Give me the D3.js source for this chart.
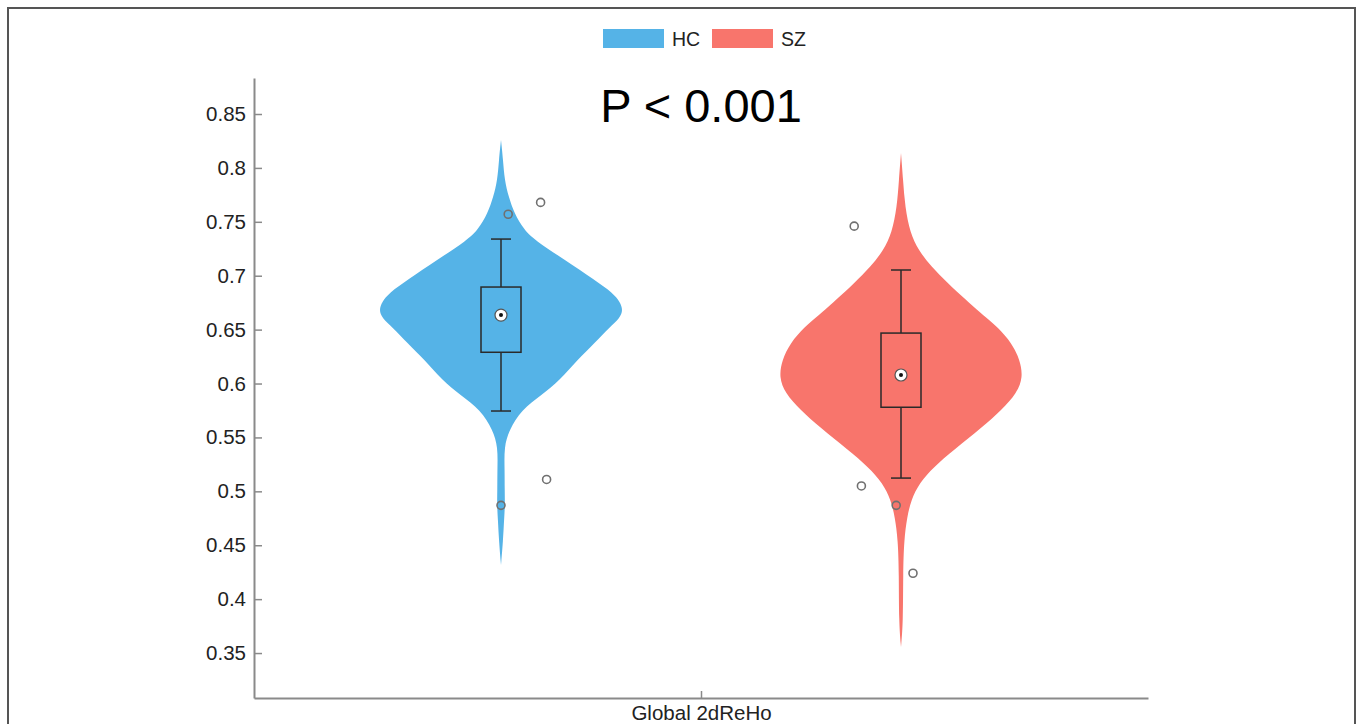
<!DOCTYPE html>
<html>
<head>
<meta charset="utf-8">
<script src="https://cdn.jsdelivr.net/npm/d3@7"></script>
<style>
  html, body { margin: 0; padding: 0; background: #fff; }
  svg { display: block; font-family: "Liberation Sans", Arial, sans-serif; }
</style>
</head>
<body>
<svg id="chart" width="1358" height="724"></svg>
<script>
// Groups and colours
const groups = ["HC", "SZ"];
const groupColors = ["#55b3e7", "#f8756c"];
const category = "Global 2dReHo";
const yTicks = [0.35, 0.4, 0.45, 0.5, 0.55, 0.6, 0.65, 0.7, 0.75, 0.8, 0.85];
const yTickLabels = ["0.35", "0.4", "0.45", "0.5", "0.55", "0.6", "0.65", "0.7", "0.75", "0.8", "0.85"];

// Kernel density profiles (value, relative density)
const hcDensityValue = [0.8259, 0.8073, 0.7888, 0.7730, 0.7582, 0.7424, 0.7331, 0.7146, 0.6960, 0.6840, 0.6756, 0.6682, 0.6608, 0.6524, 0.6376, 0.6218, 0.6032, 0.5893, 0.5754, 0.5569, 0.5411, 0.5198, 0.5012, 0.4873, 0.4734, 0.4548, 0.4316];
const hcDensityWidth = [0.0, 0.017, 0.029, 0.063, 0.108, 0.19, 0.275, 0.525, 0.767, 0.917, 0.975, 1.0, 0.975, 0.892, 0.767, 0.625, 0.483, 0.333, 0.167, 0.067, 0.025, 0.03, 0.03, 0.033, 0.025, 0.017, 0.0];
const szDensityValue = [0.8138, 0.7888, 0.7637, 0.7396, 0.7238, 0.7081, 0.6932, 0.6775, 0.6682, 0.6617, 0.6524, 0.6376, 0.6218, 0.6060, 0.5912, 0.5754, 0.5596, 0.5383, 0.5225, 0.5077, 0.4919, 0.4762, 0.4548, 0.4242, 0.3778, 0.3556];
const szDensityWidth = [0.0, 0.017, 0.033, 0.075, 0.142, 0.25, 0.383, 0.533, 0.625, 0.692, 0.792, 0.908, 0.975, 1.0, 0.95, 0.825, 0.667, 0.433, 0.267, 0.15, 0.083, 0.05, 0.025, 0.017, 0.017, 0.0];

// Box plot summaries: [lower whisker, q1, median, q3, upper whisker]
const hcBox = [0.5745, 0.629, 0.6635, 0.6895, 0.734];
const szBox = [0.5123, 0.578, 0.6079, 0.6468, 0.7053];

// Points beyond the whiskers, with horizontal jitter (fraction of half violin width)
const hcPoints = [0.768, 0.757, 0.511, 0.487];
const hcJitter = [0.33, 0.06, 0.38, 0.0];
const szPoints = [0.746, 0.505, 0.487, 0.424];
const szJitter = [-0.39, -0.33, -0.04, 0.1];

const pText = "P < 0.001";

const densities = [
  hcDensityValue.map((v, i) => ({ v, w: hcDensityWidth[i] })),
  szDensityValue.map((v, i) => ({ v, w: szDensityWidth[i] }))
];
const boxes = [hcBox, szBox];
const points = [
  hcPoints.map((v, i) => ({ v, j: hcJitter[i] })),
  szPoints.map((v, i) => ({ v, j: szJitter[i] }))
];

const svg = d3.select("#chart");

// Figure frame
svg.append("path")
  .attr("d", "M8,724 V8 H1355 V724")
  .attr("fill", "none").attr("stroke", "#555").attr("stroke-width", 2);

const plot = { left: 254, right: 1148, top: 78, bottom: 698 };

const y = d3.scaleLinear()
  .domain([0.3083, 0.8834])
  .range([plot.bottom, plot.top]);

const xCat = d3.scalePoint().domain([category]).range([plot.left, plot.right]).padding(0.5);
const xGroup = d3.scaleBand().domain(groups).range([301, 1101]).padding(0);
const halfWidth = d3.scaleLinear().domain([0, 1]).range([0, 122]);
const jitterWidth = d3.scaleLinear().domain([0, 1]).range([0, 120]);

const axisColor = "#8a8a8a";

// Y axis
const yAxis = d3.axisLeft(y).tickValues(yTicks)
  .tickFormat((d, i) => yTickLabels[i]).tickSizeInner(-8).tickSizeOuter(0).tickPadding(8);
const gy = svg.append("g").attr("transform", `translate(${plot.left},0)`).call(yAxis);
gy.select(".domain").attr("stroke", axisColor).attr("stroke-width", 2);
gy.selectAll(".tick line").attr("stroke", axisColor).attr("stroke-width", 1.5);
gy.selectAll(".tick text").attr("font-size", 20.5).attr("fill", "#222")
  .attr("font-family", "Liberation Sans, Arial, sans-serif");

// X axis
const xAxis = d3.axisBottom(xCat).tickSizeInner(-7).tickSizeOuter(0).tickPadding(7);
const gx = svg.append("g").attr("transform", `translate(0,${plot.bottom})`).call(xAxis);
gx.select(".domain").attr("stroke", axisColor).attr("stroke-width", 2);
gx.selectAll(".tick line").attr("stroke", axisColor).attr("stroke-width", 1.5);
gx.selectAll(".tick text").attr("font-size", 20.5).attr("fill", "#222")
  .attr("font-family", "Liberation Sans, Arial, sans-serif");

// Violins (smoothed density outline)
groups.forEach((g, gi) => {
  const cx = xGroup(g) + xGroup.bandwidth() / 2;
  const area = d3.area()
    .y(d => y(d.v))
    .x0(d => cx - halfWidth(d.w))
    .x1(d => cx + halfWidth(d.w))
    .curve(d3.curveBasis);
  svg.append("path")
    .datum(densities[gi])
    .attr("d", area)
    .attr("fill", groupColors[gi]);
});

// Box plots
const boxHalf = 20, capHalf = 10, boxStroke = "#2a2a2a";
groups.forEach((g, gi) => {
  const cx = xGroup(g) + xGroup.bandwidth() / 2;
  const [lo, q1, med, q3, hi] = boxes[gi];
  const bg = svg.append("g").attr("stroke", boxStroke).attr("stroke-width", 1.5).attr("fill", "none");
  bg.append("line").attr("x1", cx).attr("x2", cx).attr("y1", y(hi)).attr("y2", y(q3));
  bg.append("line").attr("x1", cx).attr("x2", cx).attr("y1", y(q1)).attr("y2", y(lo));
  bg.append("line").attr("x1", cx - capHalf).attr("x2", cx + capHalf).attr("y1", y(hi)).attr("y2", y(hi));
  bg.append("line").attr("x1", cx - capHalf).attr("x2", cx + capHalf).attr("y1", y(lo)).attr("y2", y(lo));
  bg.append("rect").attr("x", cx - boxHalf).attr("width", boxHalf * 2)
    .attr("y", y(q3)).attr("height", y(q1) - y(q3));
  svg.append("circle").attr("cx", cx).attr("cy", y(med)).attr("r", 6)
    .attr("fill", "#fff").attr("stroke", "#555").attr("stroke-width", 1.2);
  svg.append("circle").attr("cx", cx).attr("cy", y(med)).attr("r", 2)
    .attr("fill", "#111");
});

// Individual outlying points
groups.forEach((g, gi) => {
  const cx = xGroup(g) + xGroup.bandwidth() / 2;
  svg.append("g").selectAll("circle")
    .data(points[gi]).join("circle")
    .attr("cx", d => cx + jitterWidth(d.j))
    .attr("cy", d => y(d.v))
    .attr("r", 4)
    .attr("fill", "none")
    .attr("stroke", "#707070")
    .attr("stroke-width", 1.6);
});

// Significance label
svg.append("text")
  .attr("x", xCat(category)).attr("y", 122)
  .attr("text-anchor", "middle")
  .attr("font-size", 47)
  .attr("fill", "#000")
  .text(pText);

// Legend
const legend = svg.append("g");
const legendX = [603, 712];
groups.forEach((g, gi) => {
  legend.append("rect").attr("x", legendX[gi]).attr("y", 29).attr("width", 61).attr("height", 19)
    .attr("fill", groupColors[gi]);
  legend.append("text").attr("x", legendX[gi] + 69).attr("y", 46)
    .attr("font-size", 19.5).attr("fill", "#222").text(g);
});
</script>
</body>
</html>
